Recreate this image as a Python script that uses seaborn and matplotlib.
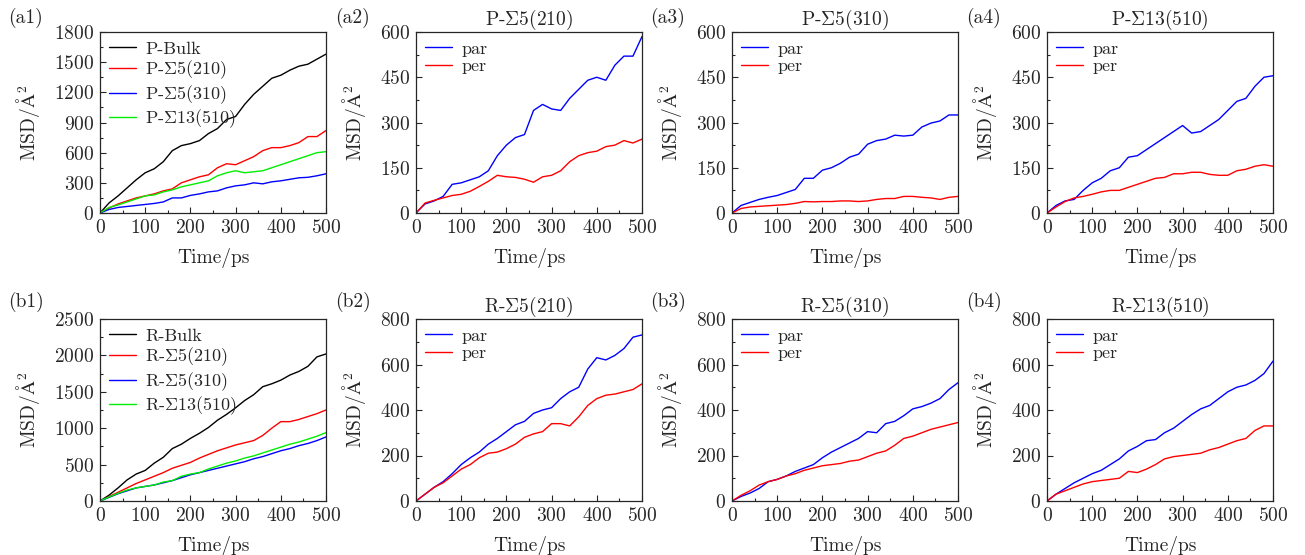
"""
MSD curves of P and R systems, bulk vs grain boundaries
"""

import pandas as pd
import seaborn as sns
import matplotlib.pyplot as plt
from matplotlib.ticker import AutoMinorLocator

# time axis (ps)
time_ps = [0, 20, 40, 60, 80, 100, 120, 140, 160, 180, 200, 220, 240,
           260, 280, 300, 320, 340, 360, 380, 400, 420, 440, 460, 480, 500]

# (a1) P systems, total MSD
p_bulk = [0, 100, 170, 250, 330, 400, 440, 510, 620, 670, 690, 720, 790,
          840, 930, 960, 1080, 1180, 1260, 1340, 1370, 1420, 1460, 1480, 1530, 1580]
p_210 = [0, 50, 90, 120, 150, 170, 190, 220, 240, 300, 330, 360, 380,
         450, 490, 480, 520, 560, 620, 650, 650, 670, 700, 760, 760, 820]
p_310 = [0, 35, 55, 65, 75, 85, 95, 110, 150, 150, 175, 190, 210,
         220, 250, 270, 280, 300, 290, 310, 320, 335, 350, 355, 370, 390]
p_510 = [0, 55, 80, 110, 140, 170, 180, 210, 230, 260, 280, 300, 320,
         370, 400, 420, 400, 410, 420, 450, 480, 510, 540, 570, 600, 610]

# (a2)-(a4) P systems, parallel / perpendicular
p_210_par = [0, 30, 40, 55, 95, 100, 110, 120, 140, 190, 225, 250, 260,
             340, 360, 345, 340, 380, 410, 440, 450, 440, 490, 520, 520, 585]
p_210_per = [0, 33, 42, 50, 58, 62, 72, 88, 105, 125, 120, 118, 112,
             102, 120, 125, 140, 170, 190, 200, 205, 220, 225, 240, 232, 245]
p_310_par = [0, 25, 35, 45, 52, 58, 68, 78, 115, 115, 142, 150, 165,
             185, 195, 228, 240, 245, 258, 255, 258, 285, 298, 305, 325, 325]
p_310_per = [0, 15, 20, 22, 24, 26, 28, 32, 38, 37, 38, 38, 40,
             40, 38, 40, 45, 48, 48, 55, 55, 52, 50, 45, 52, 55]
p_510_par = [0, 25, 40, 45, 75, 100, 115, 140, 150, 185, 190, 210, 230,
             250, 270, 290, 265, 270, 290, 310, 340, 370, 380, 420, 450, 455]
p_510_per = [0, 20, 38, 50, 55, 62, 70, 75, 75, 85, 95, 105, 115,
             118, 130, 130, 135, 135, 128, 125, 125, 140, 145, 155, 160, 155]

# (b1) R systems, total MSD
r_bulk = [0, 80, 180, 290, 370, 420, 520, 600, 720, 780, 860, 930, 1010,
          1110, 1190, 1280, 1380, 1460, 1570, 1610, 1660, 1730, 1780, 1850, 1980, 2020]
r_210 = [0, 60, 120, 180, 240, 290, 340, 390, 450, 490, 530, 590, 640,
         690, 730, 770, 800, 830, 900, 1000, 1090, 1090, 1120, 1160, 1200, 1250]
r_310 = [0, 50, 100, 140, 180, 200, 220, 250, 280, 320, 360, 390, 420,
         450, 480, 510, 540, 580, 610, 650, 690, 720, 760, 790, 830, 880]
r_510 = [0, 55, 105, 150, 180, 200, 220, 260, 280, 340, 370, 390, 440,
         480, 520, 550, 590, 620, 660, 700, 740, 780, 810, 850, 890, 940]

# (b2)-(b4) R systems, parallel / perpendicular
r_210_par = [0, 30, 60, 85, 120, 160, 190, 215, 250, 275, 305, 335, 350,
             385, 400, 410, 450, 480, 500, 580, 630, 620, 640, 670, 720, 730]
r_210_per = [0, 30, 60, 80, 110, 140, 160, 190, 210, 215, 230, 250, 280,
             295, 305, 340, 340, 330, 370, 420, 450, 465, 470, 480, 490, 515]
r_310_par = [0, 20, 35, 55, 85, 95, 110, 130, 145, 160, 190, 215, 235,
             255, 275, 305, 300, 340, 350, 375, 405, 415, 430, 450, 490, 520]
r_310_per = [0, 25, 45, 70, 85, 95, 110, 120, 135, 145, 155, 160, 165,
             175, 180, 195, 210, 220, 245, 275, 285, 300, 315, 325, 335, 345]
r_510_par = [0, 30, 55, 80, 100, 120, 135, 160, 185, 220, 240, 265, 270,
             300, 320, 350, 380, 405, 420, 450, 480, 500, 510, 530, 560, 615]
r_510_per = [0, 30, 45, 60, 75, 85, 90, 95, 100, 130, 125, 140, 160,
             185, 195, 200, 205, 210, 225, 235, 250, 265, 275, 310, 330, 330]

S = r"$\Sigma$"
COLORS = {"bulk": "black", "210": "red", "310": "blue", "510": "#00ee00"}
W, H = 1305, 555
LEFTS = [100, 416, 732, 1047]   # axes left edges in px
AX_W = 226
FS = 14


def setup_style():
    sns.set_style("ticks")
    plt.rcParams["font.family"] = ["cmr10", "STIXGeneral"]
    plt.rcParams["mathtext.fontset"] = "cm"
    plt.rcParams["axes.formatter.use_mathtext"] = True
    plt.rcParams["axes.unicode_minus"] = False
    plt.rcParams["font.size"] = FS


def style_ax(ax, ymax, ystep):
    ax.set_xlim(0, 500)
    ax.set_ylim(0, ymax)
    ax.set_xticks(range(0, 501, 100))
    ax.set_yticks(range(0, ymax + 1, ystep))
    ax.xaxis.set_minor_locator(AutoMinorLocator(2))
    ax.yaxis.set_minor_locator(AutoMinorLocator(2))
    ax.tick_params(which="both", direction="in", top=False, right=False,
                   labelsize=FS, width=0.8, pad=4)
    ax.tick_params(which="major", length=4)
    ax.tick_params(which="minor", length=2.5)
    for sp in ax.spines.values():
        sp.set_linewidth(0.9)
    ax.set_xlabel("Time/ps", fontsize=FS, labelpad=8)
    ax.set_ylabel(r"MSD/$\mathrm{\AA}^2$", fontsize=FS, labelpad=9)
    ax.legend(loc="upper left", frameon=False, fontsize=13,
              handlelength=1.5, handletextpad=0.5, labelspacing=0.1,
              borderaxespad=0.2, borderpad=0.3)


def make_ax(fig, col, row):
    top = 32 if row == 0 else 319
    bottom = 213 if row == 0 else 501
    return fig.add_axes([LEFTS[col] / W, 1 - bottom / H, AX_W / W, (bottom - top) / H])


def draw_overview(ax, series, prefix):
    keys = ["bulk", "210", "310", "510"]
    names = [f"{prefix}-Bulk", f"{prefix}-{S}5(210)", f"{prefix}-{S}5(310)", f"{prefix}-{S}13(510)"]
    for k, name, y in zip(keys, names, series):
        sns.lineplot(x=time_ps, y=y, ax=ax, color=COLORS[k], label=name, linewidth=1)


def draw_parper(ax, par, per, title):
    sns.lineplot(x=time_ps, y=par, ax=ax, color="blue", label="par", linewidth=1)
    sns.lineplot(x=time_ps, y=per, ax=ax, color="red", label="per", linewidth=1)
    ax.set_title(title, fontsize=FS, pad=3)


if __name__ == "__main__":
    setup_style()
    fig = plt.figure(figsize=(W / 100, H / 100), dpi=100)

    ax = make_ax(fig, 0, 0)
    draw_overview(ax, [p_bulk, p_210, p_310, p_510], "P")
    style_ax(ax, 1800, 300)

    ax = make_ax(fig, 1, 0)
    draw_parper(ax, p_210_par, p_210_per, f"P-{S}5(210)")
    style_ax(ax, 600, 150)
    ax = make_ax(fig, 2, 0)
    draw_parper(ax, p_310_par, p_310_per, f"P-{S}5(310)")
    style_ax(ax, 600, 150)
    ax = make_ax(fig, 3, 0)
    draw_parper(ax, p_510_par, p_510_per, f"P-{S}13(510)")
    style_ax(ax, 600, 150)

    ax = make_ax(fig, 0, 1)
    draw_overview(ax, [r_bulk, r_210, r_310, r_510], "R")
    style_ax(ax, 2500, 500)

    ax = make_ax(fig, 1, 1)
    draw_parper(ax, r_210_par, r_210_per, f"R-{S}5(210)")
    style_ax(ax, 800, 200)
    ax = make_ax(fig, 2, 1)
    draw_parper(ax, r_310_par, r_310_per, f"R-{S}5(310)")
    style_ax(ax, 800, 200)
    ax = make_ax(fig, 3, 1)
    draw_parper(ax, r_510_par, r_510_per, f"R-{S}13(510)")
    style_ax(ax, 800, 200)

    # panel labels
    tags = [["(a1)", "(a2)", "(a3)", "(a4)"], ["(b1)", "(b2)", "(b3)", "(b4)"]]
    offsets = [92, 81, 82, 81]
    for row, ypx in enumerate([18, 302]):
        for col, tag in enumerate(tags[row]):
            fig.text((LEFTS[col] - offsets[col]) / W, 1 - ypx / H, tag, fontsize=FS,
                     ha="left", va="center")

    plt.savefig("out.png", dpi=100)
